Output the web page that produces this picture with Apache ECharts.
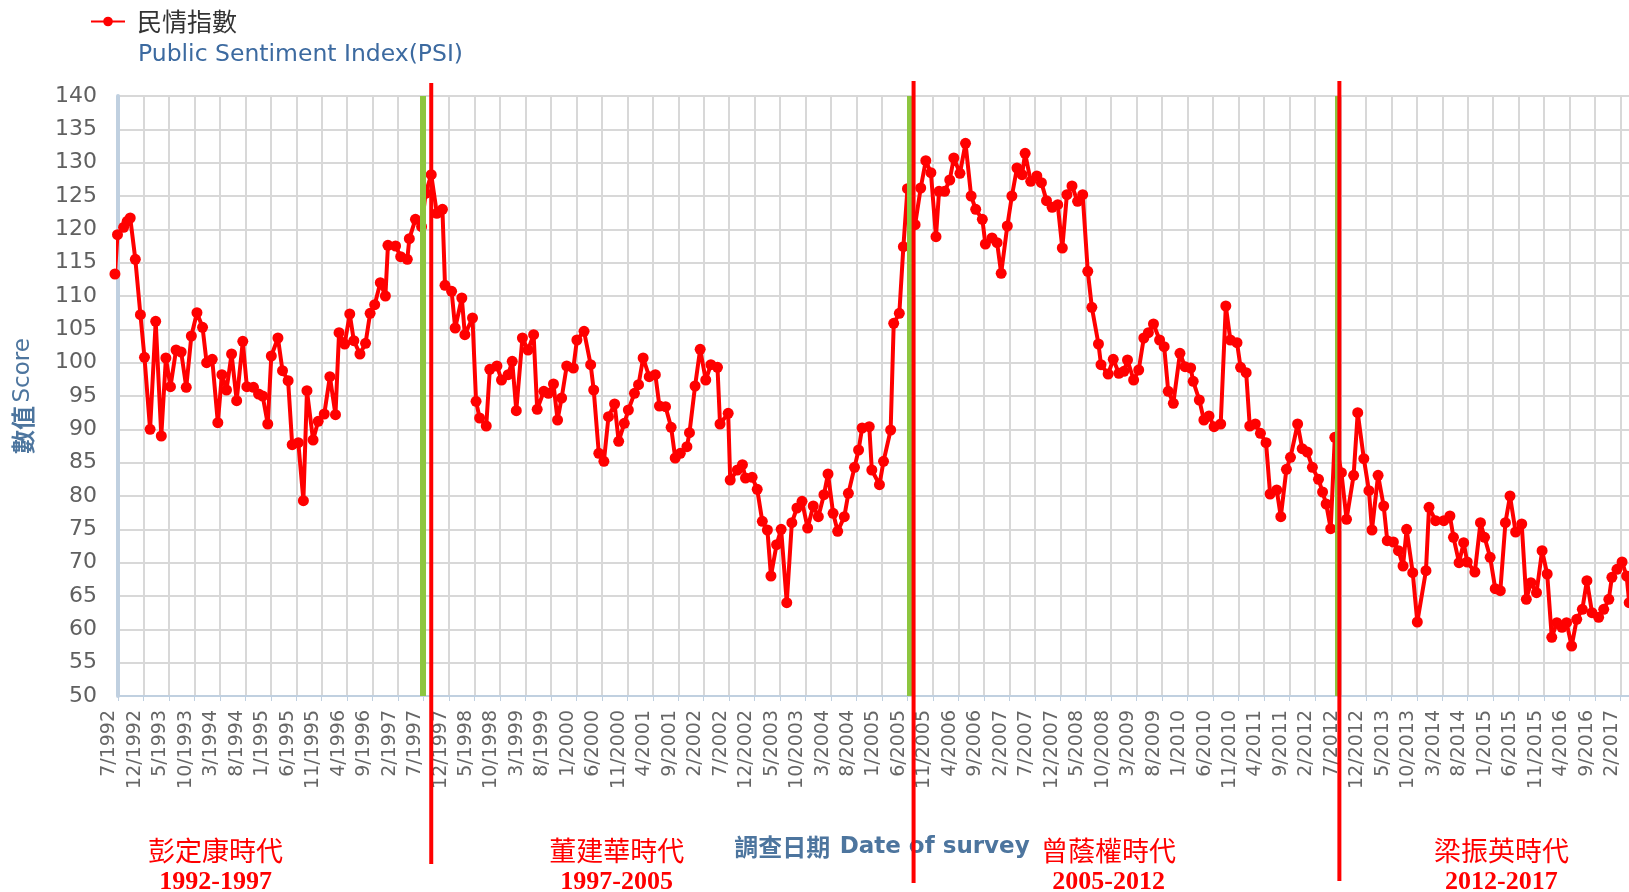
<!DOCTYPE html>
<html><head><meta charset="utf-8">
<script src="https://cdn.jsdelivr.net/npm/echarts@6/dist/echarts.min.js"></script>
<style>
html,body{margin:0;padding:0;overflow:hidden;background:#fff;width:1629px;height:892px}
#c{width:1700px;height:892px}
</style></head>
<body><div id="c"></div>
<script>
// survey position in months after 7/1992
const surveyMonth = [
-0.6,-0.1,1.1,1.8,2.4,3.4,4.4,5.2,6.3,7.4,8.5,9.4,10.3,11.4,12.4,13.4,14.4,15.5,16.6,17.4,
18.5,19.6,20.4,21.3,22.3,23.3,24.5,25.3,26.6,27.6,28.4,29.4,30.1,31.4,32.3,33.4,34.2,35.4,36.4,37.1,
38.3,39.3,40.5,41.6,42.7,43.4,44.5,45.5,46.3,47.5,48.6,49.5,50.4,51.5,52.5,53.0,54.5,55.5,56.8,57.2,
58.4,59.6,60.4,61.5,62.6,63.7,64.2,65.5,66.2,67.5,68.1,69.6,70.3,71.0,72.3,73.0,74.4,75.3,76.6,77.4,
78.2,79.4,80.5,81.6,82.3,83.6,84.5,85.5,86.3,87.1,88.1,89.4,90.1,91.5,92.8,93.4,94.4,95.4,96.3,97.5,
98.3,99.4,100.2,101.4,102.2,103.1,104.3,105.5,106.3,107.5,108.6,109.4,110.4,111.7,112.2,113.3,114.3,115.4,116.4,117.7,
118.2,119.8,120.2,121.6,122.6,123.2,124.5,125.5,126.5,127.5,128.2,129.3,130.2,131.3,132.3,133.3,134.3,135.4,136.5,137.5,
138.6,139.4,140.4,141.3,142.6,143.4,144.6,145.4,146.1,147.5,148.0,149.5,150.3,151.7,152.3,153.4,154.2,155.0,156.5,157.6,
158.6,159.6,160.6,161.2,162.3,163.3,164.1,165.3,166.4,167.5,168.4,169.7,170.3,171.6,172.6,173.4,174.6,175.5,176.5,177.5,
178.1,179.2,180.4,181.3,182.3,183.4,184.5,185.4,186.3,187.3,188.4,189.4,190.4,191.2,192.5,193.0,194.4,195.4,196.5,197.5,
198.2,199.4,200.4,201.4,202.3,203.3,204.5,205.4,206.2,207.2,208.5,209.5,210.6,211.1,212.3,213.2,214.2,215.2,216.5,217.5,
218.4,219.7,220.4,221.5,222.2,223.3,224.3,225.4,226.2,227.5,228.3,229.4,230.2,231.6,232.5,233.5,234.5,235.7,236.5,237.2,
238.1,238.9,240.2,241.2,242.6,243.4,244.6,245.6,246.2,247.4,248.5,249.2,250.4,251.4,252.3,253.0,254.2,255.1,256.8,257.4,
258.7,260.3,261.5,262.2,263.3,264.2,264.9,266.4,267.5,268.3,269.4,270.4,271.4,272.4,273.3,274.4,275.6,276.5,277.4,278.5,
279.6,280.6,281.5,282.5,283.5,284.4,285.4,286.4,287.5,288.4,289.4,290.7,291.7,292.7,293.3,294.3,295.3,296.2,296.7
];
const psi = [
113.3,119.2,120.3,121.2,121.7,115.5,107.2,100.8,90,106.2,89,100.7,96.4,101.9,101.6,96.3,104,107.5,105.3,100,
100.5,91,98.2,95.9,101.3,94.3,103.2,96.4,96.3,95.3,95,90.8,101,103.7,98.8,97.3,87.7,88,79.3,95.8,
88.4,91.2,92.3,97.9,92.2,104.5,102.8,107.3,103.3,101.3,102.9,107.4,108.7,112,110,117.6,117.5,115.9,115.5,118.6,
121.5,120.4,125.4,128.2,122.4,123,111.6,110.7,105.2,109.7,104.2,106.7,94.2,91.7,90.5,99,99.5,97.4,98.2,100.2,
92.8,103.7,101.9,104.2,93,95.7,95.4,96.8,91.4,94.7,99.5,99.2,103.4,104.7,99.7,95.9,86.4,85.2,91.9,93.8,
88.2,90.9,92.9,95.4,96.7,100.7,97.9,98.2,93.5,93.4,90.3,85.7,86.4,87.4,89.5,96.5,102,97.4,99.7,99.3,
90.8,92.4,82.4,83.9,84.7,82.7,82.8,81,76.2,74.9,68,72.7,75,64,76,78.2,79.2,75.2,78.5,76.9,
80.2,83.3,77.4,74.7,76.9,80.4,84.3,86.9,90.2,90.4,83.9,81.7,85.2,89.9,105.9,107.4,117.4,126.1,120.7,126.2,
130.3,128.5,118.9,125.7,125.7,127.4,130.7,128.4,132.9,125,123,121.5,117.8,118.7,118,113.4,120.5,125,129.2,128.2,
131.4,127.2,128,127,124.3,123.3,123.7,117.2,125.2,126.5,124.2,125.2,113.7,108.3,102.8,99.7,98.3,100.5,98.4,98.7,
100.4,97.4,98.9,103.7,104.5,105.8,103.4,102.4,95.7,93.9,101.4,99.4,99.2,97.2,94.4,91.4,92,90.4,90.8,108.5,
103.4,103,99.3,98.5,90.5,90.8,89.4,88,80.3,80.9,76.9,84,85.8,90.8,87.1,86.6,84.3,82.5,80.6,78.8,
75.1,88.8,83.5,76.5,83.1,92.5,85.6,80.8,74.9,83.1,78.5,73.3,73.1,71.8,69.5,75,68.5,61.1,68.8,78.3,
76.3,76.3,77,73.8,70,73,70.1,68.6,76,73.8,70.8,66.1,65.8,76,80,74.6,75.8,64.5,67,65.5,
71.8,68.3,58.8,61,60.3,61,57.5,61.5,63,67.3,62.5,61.8,63,64.5,67.8,69,70.1,68,64
];
const tickLabels = [
'7/1992','12/1992','5/1993','10/1993','3/1994','8/1994','1/1995','6/1995','11/1995','4/1996',
'9/1996','2/1997','7/1997','12/1997','5/1998','10/1998','3/1999','8/1999','1/2000','6/2000',
'11/2000','4/2001','9/2001','2/2002','7/2002','12/2002','5/2003','10/2003','3/2004','8/2004',
'1/2005','6/2005','11/2005','4/2006','9/2006','2/2007','7/2007','12/2007','5/2008','10/2008',
'3/2009','8/2009','1/2010','6/2010','11/2010','4/2011','9/2011','2/2012','7/2012','12/2012',
'5/2013','10/2013','3/2014','8/2014','1/2015','6/2015','11/2015','4/2016','9/2016','2/2017'
];
const handoverMonths = [59.8, 155.5, 239.5];
const eraDividerMonths = [61.5, 156.2, 239.8];
const eraNames = ['彭定康時代','董建華時代','曾蔭權時代','梁振英時代'];
const eraYears = ['1992-1997','1997-2005','2005-2012','2012-2017'];
const seriesName = '民情指數';
const seriesSubName = 'Public Sentiment Index(PSI)';

const chart = echarts.init(document.getElementById('c'), null, {renderer: 'canvas'});
const titleColor = '#4d759e';
chart.setOption({
  animation: false,
  backgroundColor: '#ffffff',
  legend: {
    data: [seriesName], left: 90, top: 9, padding: 0,
    itemWidth: 34, itemHeight: 12,
    textStyle: {fontFamily: '"Noto Sans CJK TC"', fontSize: 25, color: '#333333', padding: [0, 0, 0, 7]}
  },
  grid: {left: 118, right: 54, top: 96, bottom: 196},
  xAxis: {
    type: 'value', min: 0, max: 300, interval: 5,
    name: '{a|調查日期} {b|Date of survey}', nameLocation: 'middle', nameGap: 139,
    nameTextStyle: {rich: {
      a: {fontFamily: '"Noto Sans CJK TC"', fontWeight: 'bold', fontSize: 24, color: titleColor},
      b: {fontFamily: '"DejaVu Sans"', fontWeight: 'bold', fontSize: 23, color: titleColor, padding: [0, 0, 0, 6]}
    }},
    axisLine: {show: true, lineStyle: {color: '#c0d0e0', width: 2}},
    axisTick: {show: true, length: 5, lineStyle: {color: '#c0d0e0', width: 1}},
    axisLabel: {
      rotate: 90, margin: 14, fontFamily: '"DejaVu Sans"', fontSize: 19, color: '#666666',
      verticalAlign: 'bottom', lineHeight: 17,
      formatter: v => tickLabels[Math.round(v / 5)] || ''
    },
    splitLine: {show: true, lineStyle: {color: '#d8d8d8', width: 2}}
  },
  yAxis: {
    type: 'value', min: 50, max: 140, interval: 5, offset: 3,
    name: '{a|數值} {b|Score}', nameLocation: 'middle', nameGap: 80, nameRotate: 90,
    nameTextStyle: {rich: {
      a: {fontFamily: '"Noto Sans CJK TC"', fontWeight: 'bold', fontSize: 24, color: titleColor},
      b: {fontFamily: '"DejaVu Sans"', fontSize: 23, color: titleColor}
    }},
    axisLine: {show: true, lineStyle: {color: '#c0d0e0', width: 4}},
    axisTick: {show: false},
    axisLabel: {fontFamily: '"DejaVu Sans"', fontSize: 22, color: '#606060', margin: 18},
    splitLine: {show: true, lineStyle: {color: '#d8d8d8', width: 2}}
  },
  series: [{
    name: seriesName, type: 'line', clip: false,
    data: surveyMonth.map((m, i) => [m, psi[i]]),
    symbol: 'circle', symbolSize: 11,
    lineStyle: {color: '#ff0000', width: 4},
    itemStyle: {color: '#ff0000'},
    markLine: {
      silent: true, symbol: ['none', 'none'], label: {show: false},
      lineStyle: {color: '#8dc63f', width: 6, type: 'solid'},
      data: handoverMonths.map(m => ({xAxis: m}))
    }
  }]
});

const px = m => chart.convertToPixel({xAxisIndex: 0}, m);
const dividerSpans = [[83, 864], [81, 883], [81, 881]];
const eraCentres = [215.6, 616.7, 1108.6, 1501.4];
const graphics = [];
eraDividerMonths.forEach((m, i) => {
  const x = px(m);
  graphics.push({type: 'line', z: 100, silent: true,
    shape: {x1: x, y1: dividerSpans[i][0], x2: x, y2: dividerSpans[i][1]},
    style: {stroke: '#ff0000', lineWidth: 4}});
});
eraNames.forEach((n, i) => {
  graphics.push({type: 'text', z: 100, x: eraCentres[i], y: 851, silent: true,
    style: {text: n, fill: '#ff0000', fontSize: 27, fontFamily: '"Noto Sans CJK TC"', align: 'center', verticalAlign: 'middle'}});
  graphics.push({type: 'text', z: 100, x: eraCentres[i], y: 882, silent: true,
    style: {text: eraYears[i], fill: '#ff0000', fontSize: 26, fontWeight: 'bold', fontFamily: '"Liberation Serif"', align: 'center', verticalAlign: 'middle'}});
});
graphics.push({type: 'text', x: 138, y: 55, silent: true,
  style: {text: seriesSubName, fill: '#3c6aa0', fontSize: 23.5, fontFamily: '"DejaVu Sans"', align: 'left', verticalAlign: 'middle'}});
chart.setOption({graphic: graphics});
</script>
</body></html>
